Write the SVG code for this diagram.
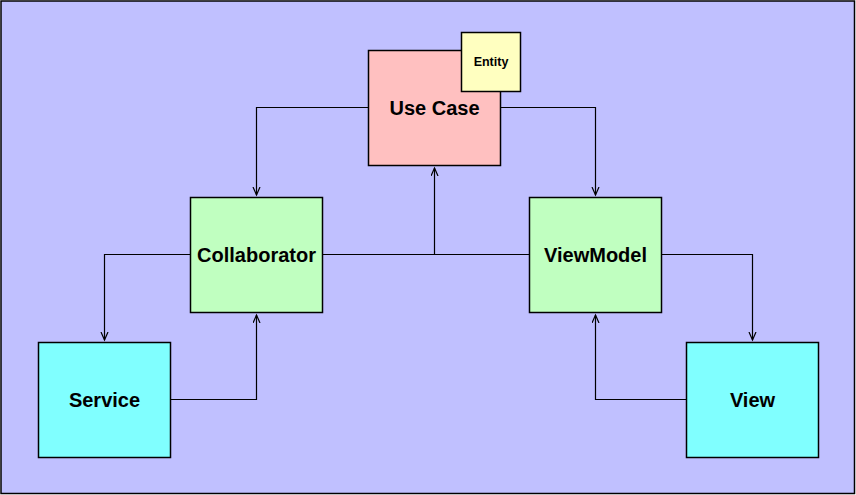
<svg xmlns="http://www.w3.org/2000/svg" width="856" height="495" viewBox="0 0 856 495">
<defs>
<marker id="arr" markerWidth="10" markerHeight="10" refX="8" refY="4" orient="auto" markerUnits="userSpaceOnUse">
<path d="M0,0.5 L8,4 L0,7.5" fill="none" stroke="#000" stroke-width="1.2"/>
</marker>
</defs>
<style>
.box{stroke:#000;stroke-width:1.5}
.lbl{font-family:"Liberation Sans",Arial,sans-serif;font-weight:bold;font-size:20px;text-anchor:middle;dominant-baseline:central;fill:#000}
.small{font-size:12.5px}
.c{fill:none;stroke:#000;stroke-width:1.2}
</style>
<rect x="1" y="1" width="853.5" height="492.5" fill="#C0C0FF" stroke="#000" stroke-width="1.5"/>
<g id="connectors">
<path class="c" d="M368.5,107.5 H256.5 V195" marker-end="url(#arr)"/>
<path class="c" d="M500.5,107.5 H595.5 V195" marker-end="url(#arr)"/>
<path class="c" d="M322.5,254.5 H529.5 M434.5,254.5 V168" marker-end="url(#arr)"/>
<path class="c" d="M190.5,254.5 H104.5 V340" marker-end="url(#arr)"/>
<path class="c" d="M170.5,399.5 H256.5 V315" marker-end="url(#arr)"/>
<path class="c" d="M661.5,254.5 H752.5 V340" marker-end="url(#arr)"/>
<path class="c" d="M686.5,399.5 H595.5 V315" marker-end="url(#arr)"/>
</g>
<g id="usecase">
<rect class="box" x="368.5" y="50.5" width="132" height="115" fill="#FFC0C0"/>
<text class="lbl" x="434.5" y="107.5">Use Case</text>
</g>
<g id="entity">
<rect class="box" x="461.5" y="32.5" width="59" height="59" fill="#FFFFC0"/>
<text class="lbl small" x="491" y="62">Entity</text>
</g>
<g id="collaborator">
<rect class="box" x="190.5" y="197.5" width="132" height="115" fill="#C0FFC0"/>
<text class="lbl" x="256.5" y="254.5">Collaborator</text>
</g>
<g id="viewmodel">
<rect class="box" x="529.5" y="197.5" width="132" height="115" fill="#C0FFC0"/>
<text class="lbl" x="595.5" y="254.5">ViewModel</text>
</g>
<g id="service">
<rect class="box" x="38.5" y="342.5" width="132" height="115" fill="#80FFFF"/>
<text class="lbl" x="104.5" y="399.5">Service</text>
</g>
<g id="view">
<rect class="box" x="686.5" y="342.5" width="132" height="115" fill="#80FFFF"/>
<text class="lbl" x="752.5" y="399.5">View</text>
</g>
</svg>
